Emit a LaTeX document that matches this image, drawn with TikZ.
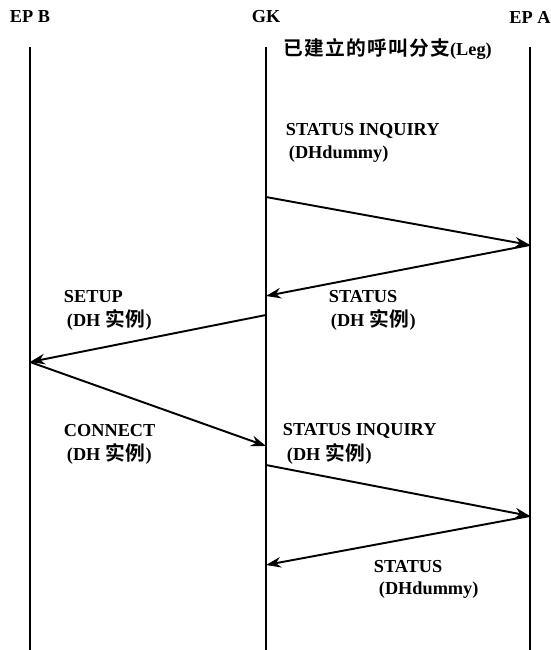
\documentclass[tikz,border=0pt]{standalone}
\usepackage{fontspec}
\setmainfont{Liberation Serif}
\newfontfamily\cjk{Noto Sans CJK SC}[Scale=1.08, LetterSpace=6, BoldFont={Noto Sans CJK SC Bold}]
\usetikzlibrary{arrows.meta}

\begin{document}
\begin{tikzpicture}[x=0.02cm, y=-0.02cm, >={Stealth[length=8.5pt,width=6pt]}, line width=1.1pt,
        font=\bfseries\fontsize{10.4}{12}\selectfont]
            \useasboundingbox (0,0) rectangle (551,650);
            \tikzset{lbl/.style={anchor=west, inner sep=0pt}}
            \newcommand{\lifeline}[3]{
                \node (#1) at (#2, 17) {#3};
                \coordinate (#1top) at (#2, 47);
                \coordinate (#1bot) at (#2, 650);
                \draw (#1top) -- (#1bot);
            }
            \lifeline{epb}{30}{EP B};
            \lifeline{gk}{266}{GK};
            \lifeline{epa}{530}{EP A};
            \newcommand{\msglabel}[6]{
                \node[lbl] (#1a) at (#2, #4) {#5};
                \node[lbl] (#1b) at (#3, #4+23) {#6};
            }
            \node[lbl] (leg) at (283, 49) {{\cjk 已建立的呼叫分支}(Leg)};
            \msglabel{inq1}{285}{288}{131}{STATUS INQUIRY}{(DHdummy)};
            \msglabel{setup}{63}{66}{297}{SETUP}{(DH {\cjk 实例})};
            \msglabel{stat1}{328}{330}{297}{STATUS}{(DH {\cjk 实例})};
            \msglabel{conn}{63}{66}{431}{CONNECT}{(DH {\cjk 实例})};
            \msglabel{inq2}{282}{286}{431}{STATUS INQUIRY}{(DH {\cjk 实例})};
            \msglabel{stat2}{373}{378}{567}{STATUS}{(DHdummy)};
            % message points on the lifelines
            \coordinate (gk1) at (266, 197);
            \coordinate (epa1) at (530, 245);
            \coordinate (gk2) at (266, 296);
            \coordinate (gk3) at (266, 315);
            \coordinate (epb3) at (30, 362);
            \coordinate (gk4) at (266, 446);
            \coordinate (gk5) at (266, 465);
            \coordinate (epa5) at (530, 516);
            \coordinate (gk6) at (266, 565);
            \draw[->] (gk1) -- (epa1);
            \draw[->] (epa1) -- (gk2);
            \draw[->] (gk3) -- (epb3);
            \draw[->] (epb3) -- (gk4);
            \draw[->] (gk5) -- (epa5);
            \draw[->] (epa5) -- (gk6);
        \end{tikzpicture}
\end{document}
